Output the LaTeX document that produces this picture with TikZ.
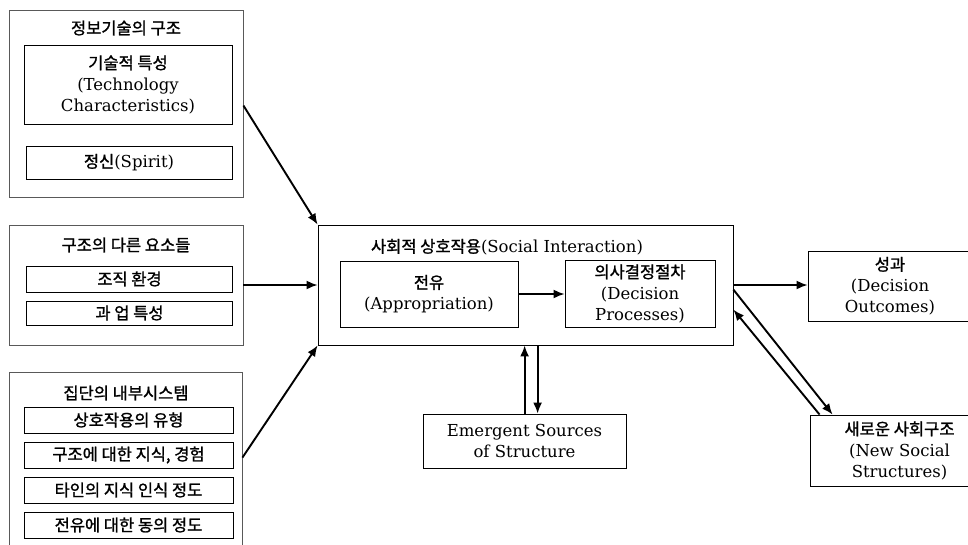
\documentclass[tikz,border=0pt]{standalone}
\usepackage{fontspec}
\setmainfont{DejaVu Serif}
\newfontfamily\kr[FakeBold=1.3]{Noto Sans CJK KR}
\usetikzlibrary{arrows.meta,calc}
\begin{document}
\begin{tikzpicture}[x=1pt,y=-1pt,
  outerbox/.style={draw=black!65, line width=0.9pt, inner sep=0pt},
  box/.style={draw=black, line width=0.8pt, inner sep=0pt, align=center, font=\fontsize{16.5}{21}\selectfont},
  lbl/.style={inner sep=0pt, align=center, font=\fontsize{16.5}{21}\selectfont},
  arr/.style={line width=1.9pt, -{Latex[length=11pt,width=9pt]}}]
\useasboundingbox (0,0) rectangle (968,544);
\clip (0,0) rectangle (968,544);

% left group 1
\node[outerbox, minimum width=234pt, minimum height=187pt] (box1) at (126,103.5) {};
\node[lbl] (t1) at (126,28) {\kr 정보기술의 구조};
\node[box, minimum width=208pt, minimum height=79pt] (tech) at (128,84.5) {{\kr 기술적 특성}\\(Technology\\Characteristics)};
\node[box, minimum width=206pt, minimum height=33pt] (spirit) at (129,162.5) {{\kr 정신}(Spirit)};

% left group 2
\node[outerbox, minimum width=234pt, minimum height=120pt] (box2) at (126,285) {};
\node[lbl] (t2) at (126,245) {\kr 구조의 다른 요소들};
\node[box, minimum width=206pt, minimum height=26pt] (org) at (129.5,279) {\kr 조직 환경};
\node[box, minimum width=206pt, minimum height=24pt] (task) at (129.5,313) {\kr 과 업 특성};

% left group 3
\node[outerbox, minimum width=233pt, minimum height=200pt] (box3) at (125.5,472) {};
\node[lbl] (t3) at (126,393) {\kr 집단의 내부시스템};
\node[box, minimum width=209pt, minimum height=26pt] (i1) at (128.5,420) {\kr 상호작용의 유형};
\node[box, minimum width=209pt, minimum height=26pt] (i2) at (128.5,455) {\kr 구조에 대한 지식, 경험};
\node[box, minimum width=209pt, minimum height=26pt] (i3) at (128.5,490) {\kr 타인의 지식 인식 정도};
\node[box, minimum width=209pt, minimum height=26pt] (i4) at (128.5,525) {\kr 전유에 대한 동의 정도};

% centre
\node[box, minimum width=415pt, minimum height=120pt] (big) at (525.5,285) {};
\node[lbl] (bt) at (507,247) {{\kr 사회적 상호작용}(Social Interaction)};
\node[box, minimum width=178pt, minimum height=66pt] (approp) at (429,294) {{\kr 전유}\\(Appropriation)};
\node[box, minimum width=150pt, minimum height=67pt] (decision) at (640,293.5) {{\kr 의사결정절차}\\(Decision\\Processes)};

% right
\node[box, minimum width=164pt, minimum height=70pt] (outcome) at (890,286) {{\kr 성과}\\(Decision\\Outcomes)};
\node[box, minimum width=179pt, minimum height=71pt] (newsoc) at (899.5,450.5) {{\kr 새로운 사회구조}\\(New Social\\Structures)};

% bottom
\node[box, minimum width=203pt, minimum height=54pt] (emerg) at (524.5,441) {Emergent Sources\\of Structure};

% arrows
\coordinate (a1) at ($(box1.north east)+(0,96)$);
\draw[arr] (a1) -- (big.north west);
\draw[arr] (box2.east) -- (big.west);
\coordinate (a3) at ($(box3.north east)+(0,86)$);
\draw[arr] (a3) -- (big.south west);
\draw[arr] (approp.east) -- (approp.east -| decision.west);
\draw[arr] (big.east) -- (big.east -| outcome.west);
\coordinate (b1) at ($(big.north east)+(0,65)$);
\coordinate (b2) at ($(newsoc.north west)+(23,0)$);
\draw[arr] (b1) -- (b2);
\coordinate (b3) at ($(newsoc.north west)+(10,0)$);
\coordinate (b4) at ($(big.north east)+(0,85)$);
\draw[arr] (b3) -- (b4);
\coordinate (e1) at ($(emerg.north west)+(102,0)$);
\draw[arr] (e1) -- (e1 |- big.south);
\coordinate (e2) at ($(big.south west)+(220,0)$);
\draw[arr] (e2) -- (e2 |- emerg.north);
\end{tikzpicture}
\end{document}
